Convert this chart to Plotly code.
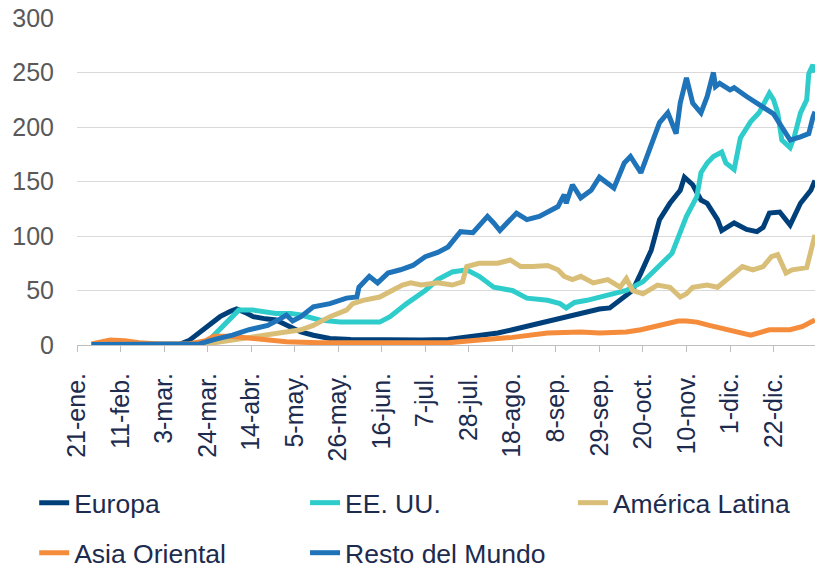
import plotly.graph_objects as go

# ---------------- data ----------------
series_names = ["Europa", "EE. UU.", "América Latina", "Asia Oriental", "Resto del Mundo"]
series_colors = ["#00407A", "#2ECDCC", "#D9BE78", "#F58C3C", "#1E73B9"]

europa_dates = ["2020-01-28","2020-02-11","2020-02-25","2020-03-11","2020-03-15","2020-03-20","2020-03-25","2020-03-30","2020-04-04","2020-04-07","2020-04-11","2020-04-15","2020-04-21","2020-04-26","2020-04-28","2020-05-03","2020-05-08","2020-05-14","2020-05-22","2020-06-01","2020-06-15","2020-07-05","2020-07-18","2020-07-27","2020-08-03","2020-08-11","2020-08-18","2020-08-27","2020-09-02","2020-09-10","2020-09-20","2020-09-29","2020-10-04","2020-10-09","2020-10-15","2020-10-19","2020-10-24","2020-10-28","2020-11-02","2020-11-07","2020-11-09","2020-11-13","2020-11-17","2020-11-20","2020-11-25","2020-11-27","2020-12-03","2020-12-09","2020-12-14","2020-12-17","2020-12-20","2020-12-25","2020-12-30","2021-01-04","2021-01-09","2021-01-11"]
europa_vals = [0.5,0.5,0.5,1,4,11,19,26,31,33,30,26,24,23,21,16,12,9,6,5,4.5,4.5,5,7,9,11,14,18,21,24,29,33,34,41,50,66,87,115,130,142,154,147,133,130,115,105,112,106,104,108,121,122,110,130,142,151]

eeuu_dates = ["2020-01-28","2020-02-25","2020-03-20","2020-03-25","2020-03-28","2020-04-01","2020-04-05","2020-04-08","2020-04-15","2020-04-21","2020-04-26","2020-05-03","2020-05-08","2020-05-17","2020-05-27","2020-06-05","2020-06-15","2020-06-20","2020-06-28","2020-07-07","2020-07-13","2020-07-20","2020-07-27","2020-08-02","2020-08-09","2020-08-18","2020-08-25","2020-09-04","2020-09-10","2020-09-13","2020-09-17","2020-09-23","2020-10-04","2020-10-12","2020-10-20","2020-10-28","2020-11-03","2020-11-10","2020-11-15","2020-11-17","2020-11-20","2020-11-23","2020-11-27","2020-11-29","2020-12-03","2020-12-06","2020-12-11","2020-12-15","2020-12-20","2020-12-22","2020-12-24","2020-12-26","2020-12-30","2021-01-01","2021-01-04","2021-01-07","2021-01-08","2021-01-10","2021-01-11"]
eeuu_vals = [0.5,0.5,1,5,11,19,26,32,32,30,29,29,27.5,23,21,21,21,26,38,50,60,67,69,63,53,50,43,41,38,34,39,41,46,50,58,72,84,118,136,158,167,173,177,167,161,190,205,213,231,225,213,188,181,191,213,225,249,257,250]

latam_dates = ["2020-01-28","2020-03-20","2020-03-27","2020-04-05","2020-04-13","2020-04-22","2020-04-28","2020-05-08","2020-05-14","2020-05-22","2020-05-30","2020-06-02","2020-06-07","2020-06-15","2020-06-21","2020-06-26","2020-06-30","2020-07-05","2020-07-13","2020-07-20","2020-07-25","2020-07-27","2020-08-02","2020-08-11","2020-08-17","2020-08-22","2020-08-28","2020-09-04","2020-09-09","2020-09-12","2020-09-16","2020-09-20","2020-09-26","2020-10-03","2020-10-09","2020-10-12","2020-10-15","2020-10-20","2020-10-27","2020-11-02","2020-11-07","2020-11-10","2020-11-13","2020-11-20","2020-11-25","2020-12-01","2020-12-07","2020-12-12","2020-12-17","2020-12-21","2020-12-24","2020-12-28","2020-12-31","2021-01-07","2021-01-10","2021-01-11"]
latam_vals = [0.5,0.5,2,4.6,7,9,11,14,18,26,32,38,41,44,50,55,57,55,57,55,58,72,75,75,78,72,72,73,69,63,60,63,57,60,53,61,50,47,55,53,44,47,53,55,53,63,72,69,72,81,83,66,69,71,96,101]

asia_dates = ["2020-01-28","2020-02-01","2020-02-06","2020-02-13","2020-02-20","2020-03-01","2020-03-15","2020-03-23","2020-03-27","2020-04-04","2020-04-15","2020-04-23","2020-05-01","2020-05-17","2020-06-25","2020-07-18","2020-08-02","2020-08-18","2020-09-04","2020-09-20","2020-09-29","2020-10-12","2020-10-19","2020-10-27","2020-11-06","2020-11-10","2020-11-15","2020-11-21","2020-12-03","2020-12-11","2020-12-20","2020-12-30","2021-01-05","2021-01-10","2021-01-11"]
asia_vals = [1,3,4.5,4,2,1,1,4,8,8,6,4,3,2,2,2,4.6,7,11,12,11,12,14,18,22,22,21,18,12,9,14,14,17,23,23]

resto_dates = ["2020-01-28","2020-02-25","2020-03-20","2020-03-27","2020-04-05","2020-04-13","2020-04-22","2020-04-28","2020-05-01","2020-05-04","2020-05-08","2020-05-14","2020-05-22","2020-05-30","2020-06-04","2020-06-05","2020-06-10","2020-06-14","2020-06-19","2020-06-25","2020-07-01","2020-07-07","2020-07-13","2020-07-18","2020-07-24","2020-07-30","2020-08-06","2020-08-09","2020-08-12","2020-08-16","2020-08-20","2020-08-25","2020-08-31","2020-09-09","2020-09-12","2020-09-13","2020-09-16","2020-09-20","2020-09-25","2020-09-29","2020-10-03","2020-10-06","2020-10-11","2020-10-14","2020-10-19","2020-10-24","2020-10-28","2020-11-01","2020-11-05","2020-11-07","2020-11-10","2020-11-13","2020-11-17","2020-11-20","2020-11-23","2020-11-24","2020-11-26","2020-12-01","2020-12-03","2020-12-09","2020-12-16","2020-12-22","2020-12-26","2020-12-30","2021-01-04","2021-01-08","2021-01-10","2021-01-11"]
resto_vals = [0.5,0.5,1,5,9,14,18,24,27.5,22,26,35,38,43,44,53,63,57,66,69,73,81,85,90,104,103,118,112,105,113,121,115,118,127,138,130,147,135,142,154,148,144,167,173,158,182,204,213,194,222,245,222,213,228,250,237,240,234,236,228,220,212,200,188,191,194,209,214]

tick_dates = ["2020-01-21","2020-02-11","2020-03-03","2020-03-24","2020-04-14","2020-05-05","2020-05-26","2020-06-16","2020-07-07","2020-07-28","2020-08-18","2020-09-08","2020-09-29","2020-10-20","2020-11-10","2020-12-01","2020-12-22"]
tick_labels = ["21-ene.","11-feb.","3-mar.","24-mar.","14-abr.","5-may.","26-may.","16-jun.","7-jul.","28-jul.","18-ago.","8-sep.","29-sep.","20-oct.","10-nov.","1-dic.","22-dic."]
y_ticks = [0, 50, 100, 150, 200, 250, 300]

# ---------------- figure ----------------
FONT = "Liberation Sans, Arial, sans-serif"
NAVY_TXT = "#1C2B4E"

all_x = [europa_dates, eeuu_dates, latam_dates, asia_dates, resto_dates]
all_y = [europa_vals, eeuu_vals, latam_vals, asia_vals, resto_vals]
legend_ids = ["legend", "legend2", "legend3", "legend4", "legend5"]
# legend placement (paper coords): column / row
legend_pos = [(-0.058, -0.483), (0.309, -0.483), (0.672, -0.483),
              (-0.058, -0.636), (0.309, -0.636)]

fig = go.Figure()
for name, color, xs, ys, lg in zip(series_names, series_colors, all_x, all_y, legend_ids):
    fig.add_trace(go.Scatter(
        x=xs, y=ys, name=name, mode="lines",
        line=dict(color=color, width=5),
        legend=lg, hoverinfo="skip",
    ))

legend_common = dict(
    orientation="h", xanchor="left", yanchor="middle",
    font=dict(family=FONT, size=26.5, color=NAVY_TXT),
    bgcolor="rgba(0,0,0,0)", borderwidth=0, itemwidth=30,
)
legend_layout = {lg: dict(x=px, y=py, **legend_common) for lg, (px, py) in zip(legend_ids, legend_pos)}

fig.update_layout(
    width=815, height=568,
    margin=dict(l=77, r=0, t=18, b=223, autoexpand=False),
    paper_bgcolor="white", plot_bgcolor="white",
    font=dict(family=FONT),
    showlegend=True,
    xaxis=dict(
        type="date",
        range=["2020-01-21", "2021-01-11"],
        tickmode="array", tickvals=tick_dates, ticktext=tick_labels,
        tickangle=-90,
        tickfont=dict(family=FONT, size=25, color=NAVY_TXT),
        ticks="outside", ticklen=6, tickwidth=1, tickcolor="#BFBFBF",
        ticklabelstandoff=11,
        showline=True, linecolor="#BFBFBF", linewidth=1,
        showgrid=False, zeroline=False, automargin=False,
    ),
    yaxis=dict(
        range=[0, 300],
        tickmode="array", tickvals=y_ticks,
        tickfont=dict(family=FONT, size=25, color="#595959"),
        showgrid=True, gridcolor="#D9D9D9", gridwidth=1,
        zeroline=False, showline=False, ticks="",
        ticklabelstandoff=22, automargin=False,
    ),
    **legend_layout,
)

fig.write_html("out.html", config={"displayModeBar": False},
               post_script="document.body.style.margin='0';")
